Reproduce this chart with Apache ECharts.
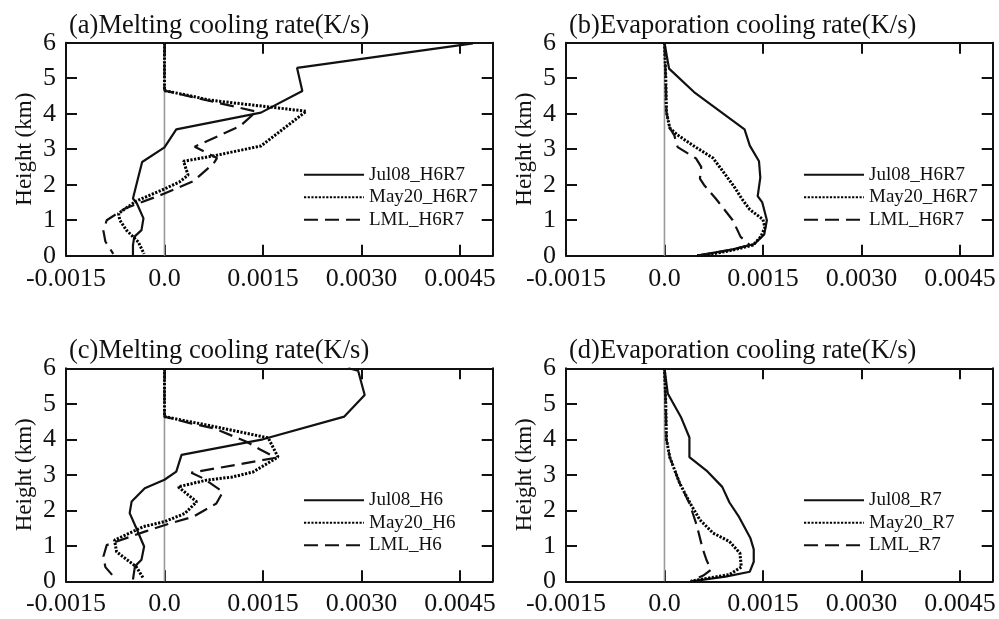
<!DOCTYPE html>
<html>
<head>
<meta charset="utf-8">
<script src="https://cdn.jsdelivr.net/npm/echarts@6.0.0/dist/echarts.min.js"></script>
<style>
  html, body { margin: 0; padding: 0; background: #fff; }
  #main { width: 999px; height: 619px; }
</style>
</head>
<body>
<div id="main"></div>
<script>
// tick labels
const xTicks = [-0.0015, 0, 0.0015, 0.003, 0.0045];
const xTickLabels = ['-0.0015', '0.0', '0.0015', '0.0030', '0.0045'];
const yTicks = [0, 1, 2, 3, 4, 5, 6];

// panel titles and legend names
const titles = ['(a)Melting cooling rate(K/s)', '(b)Evaporation cooling rate(K/s)',
  '(c)Melting cooling rate(K/s)', '(d)Evaporation cooling rate(K/s)'];
const namesAB = ['Jul08_H6R7', 'May20_H6R7', 'LML_H6R7'];
const namesC = ['Jul08_H6', 'May20_H6', 'LML_H6'];
const namesD = ['Jul08_R7', 'May20_R7', 'LML_R7'];

// [cooling rate (K/s), height (km)]
const jul08A = [[0.0047, 5.98], [0.00202, 5.29], [0.0021, 4.64], [0.00147, 4.03], [0.00018, 3.56], [0, 3.05],
  [-0.00034, 2.64], [-0.0004, 2.2], [-0.00048, 1.61], [-0.00042, 1.47], [-0.00032, 1.05], [-0.00035, 0.72],
  [-0.00046, 0.53], [-0.00048, 0.3], [-0.00048, 0]];
const may20A = [[0, 6], [0, 4.65], [0.0004, 4.5], [0.0007, 4.38], [0.00216, 4.07], [0.00147, 3.09], [0.00074, 2.81],
  [0.00029, 2.66], [0.00036, 2.27], [0.00023, 2.08], [0, 1.88], [-0.00043, 1.54], [-0.0007, 1.19], [-0.00068, 1.0],
  [-0.00058, 0.72], [-0.0004, 0.39], [-0.00031, 0.05]];
const lmlA = [[0, 6], [0, 4.65], [0.0014, 4.06], [0.00115, 3.65], [0.00046, 3.07], [0.0008, 2.75], [0.00075, 2.6],
  [0.00044, 2.1], [0, 1.75], [-0.0006, 1.33], [-0.00088, 1.0], [-0.00093, 0.7], [-0.0009, 0.4], [-0.00078, 0.05]];

const jul08B = [[0, 6], [0.00007, 5.27], [0.00045, 4.61], [0.00122, 3.56], [0.0013, 3.1], [0.00144, 2.66],
  [0.00146, 2.2], [0.00142, 1.68], [0.00149, 1.5], [0.00156, 1.0], [0.00152, 0.6], [0.00137, 0.33],
  [0.00104, 0.18], [0.0005, 0]];
const may20B = [[0, 6], [0.00002, 5.0], [0.00003, 4.05], [0.00008, 3.6], [0.0002, 3.4], [0.00043, 3.11],
  [0.00074, 2.75], [0.00092, 2.3], [0.00106, 1.95], [0.00118, 1.6], [0.0013, 1.3], [0.0015, 1.02], [0.00153, 0.8],
  [0.00147, 0.54], [0.00135, 0.3], [0.00104, 0.16], [0.00074, 0.05], [0.0005, 0]];
const lmlB = [[0, 6], [0.00002, 5.0], [0.00003, 4.05], [0.00008, 3.6], [0.00015, 3.39], [0.0002, 3.06],
  [0.00048, 2.74], [0.00056, 2.5], [0.00054, 2.17], [0.0006, 2.0], [0.00078, 1.61], [0.00104, 1.0],
  [0.00116, 0.53], [0.0013, 0.3], [0.001, 0.16], [0.0005, 0]];

const jul08C = [[0.0028, 6.0], [0.00295, 5.93], [0.00305, 5.25], [0.00274, 4.64], [0.0015, 4.0], [0.00026, 3.56],
  [0.00018, 3.09], [0, 2.86], [-0.0003, 2.62], [-0.0005, 2.25], [-0.00053, 1.92], [-0.00043, 1.5],
  [-0.00031, 0.98], [-0.00035, 0.61], [-0.00045, 0.42], [-0.00048, 0.05]];
const may20C = [[0, 6], [0, 4.64], [0.0007, 4.38], [0.00158, 4.04], [0.00173, 3.5], [0.00135, 3.08],
  [0.00104, 2.94], [0.00064, 2.85], [0.00021, 2.66], [0.00049, 2.24], [0.00031, 1.91], [0, 1.68],
  [-0.00032, 1.54], [-0.00076, 1.16], [-0.00073, 0.83], [-0.00043, 0.41], [-0.00032, 0.08]];
const lmlC = [[0, 6], [0, 4.64], [0.0004, 4.45], [0.00077, 4.3], [0.00125, 3.93], [0.00145, 3.72], [0.0017, 3.48],
  [0.00041, 3.06], [0.00059, 2.9], [0.00089, 2.52], [0.00079, 2.19], [0.00044, 1.82], [0.00008, 1.63],
  [-0.0003, 1.4], [-0.00088, 1.02], [-0.00093, 0.7], [-0.0009, 0.4], [-0.00075, 0.08]];

const jul08D = [[0, 6], [0.00005, 5.29], [0.00025, 4.63], [0.00038, 4.05], [0.00038, 3.5], [0.00064, 3.12],
  [0.00088, 2.66], [0.00099, 2.22], [0.00114, 1.8], [0.00131, 1.21], [0.00136, 0.9], [0.00136, 0.55],
  [0.0013, 0.27], [0.00093, 0.13], [0.0004, 0]];
const may20D = [[0, 6], [0.00002, 5.0], [0.00003, 4.0], [0.00008, 3.5], [0.00023, 2.77], [0.00039, 2.2],
  [0.00054, 1.73], [0.00074, 1.36], [0.00099, 1.12], [0.00115, 0.79], [0.00117, 0.4], [0.00099, 0.19],
  [0.00054, 0.05], [0.0004, 0]];
const lmlD = [[0, 6], [0.00002, 5.0], [0.00003, 4.0], [0.00008, 3.5], [0.00023, 2.77], [0.00038, 2.2],
  [0.00049, 1.59], [0.00058, 0.93], [0.00064, 0.6], [0.00071, 0.33], [0.00059, 0.16], [0.0004, 0]];

const zeroLine = [[0, 0], [0, 6]];

const font = 'Liberation Serif';
const ink = '#111';
const styles = [
  { color: ink, width: 2.2 },
  { color: '#000', width: 3, type: [2.2, 1.5] },
  { color: ink, width: 2.2, type: [14, 7] }
];

const panels = [
  { left: 66, top: 42.7, names: namesAB, data: [jul08A, may20A, lmlA] },
  { left: 566, top: 42.7, names: namesAB, data: [jul08B, may20B, lmlB] },
  { left: 66, top: 368.3, names: namesC, data: [jul08C, may20C, lmlC] },
  { left: 566, top: 368.3, names: namesD, data: [jul08D, may20D, lmlD] }
];

function xLabel(v) {
  const i = xTicks.findIndex(t => Math.abs(t - v) < 1e-9);
  return i < 0 ? '' : xTickLabels[i];
}

const option = {
  animation: false,
  backgroundColor: '#fff',
  title: [], grid: [], xAxis: [], yAxis: [], legend: [], series: []
};

panels.forEach((p, k) => {
  option.title.push({
    text: titles[k], left: p.left - 2, top: p.top - 35.5,
    textStyle: { fontFamily: font, fontSize: 26.5, fontWeight: 'normal', color: ink }
  });
  option.grid.push({ left: p.left, top: p.top, width: 426.7, height: 213 });
  const xBase = {
    type: 'value', gridIndex: k, min: -0.0015, max: 0.005, interval: 0.0015,
    axisLine: { onZero: false, lineStyle: { color: ink, width: 2 } },
    axisTick: { inside: true, length: 11, lineStyle: { color: ink, width: 2 } },
    splitLine: { show: false }
  };
  option.xAxis.push(Object.assign({}, xBase, {
    position: 'bottom',
    axisLabel: { formatter: xLabel, fontFamily: font, fontSize: 26, color: ink, margin: 10, showMaxLabel: false }
  }));
  option.xAxis.push(Object.assign({}, xBase, { position: 'top', axisLabel: { show: false } }));
  const yBase = {
    type: 'value', gridIndex: k, min: 0, max: 6, interval: 1,
    axisLine: { onZero: false, lineStyle: { color: ink, width: 2 } },
    axisTick: { inside: true, length: 11, lineStyle: { color: ink, width: 2 } },
    splitLine: { show: false }
  };
  option.yAxis.push(Object.assign({}, yBase, {
    position: 'left',
    name: 'Height (km)', nameLocation: 'middle', nameGap: 30,
    nameTextStyle: { fontFamily: font, fontSize: 23, color: ink },
    axisLabel: { fontFamily: font, fontSize: 26, color: ink, margin: 10 }
  }));
  option.yAxis.push(Object.assign({}, yBase, { position: 'right', axisLabel: { show: false } }));

  option.legend.push({
    data: p.names, orient: 'vertical', left: p.left + 237, top: p.top + 121, padding: 0,
    itemWidth: 60, itemHeight: 10, itemGap: 0.5, selectedMode: false,
    itemStyle: { opacity: 0 },
    textStyle: { fontFamily: font, fontSize: 19, color: ink, lineHeight: 22 }
  });

  option.series.push({
    type: 'line', xAxisIndex: 2 * k, yAxisIndex: 2 * k, data: zeroLine, symbol: 'none',
    lineStyle: { color: '#999', width: 1.6 }, silent: true, z: 1
  });
  p.data.forEach((d, j) => {
    option.series.push({
      type: 'line', name: p.names[j], xAxisIndex: 2 * k, yAxisIndex: 2 * k, data: d,
      symbol: 'none', itemStyle: { color: ink }, lineStyle: styles[j], z: 3
    });
  });
});

const chart = echarts.init(document.getElementById('main'));
chart.setOption(option);
</script>
</body>
</html>
